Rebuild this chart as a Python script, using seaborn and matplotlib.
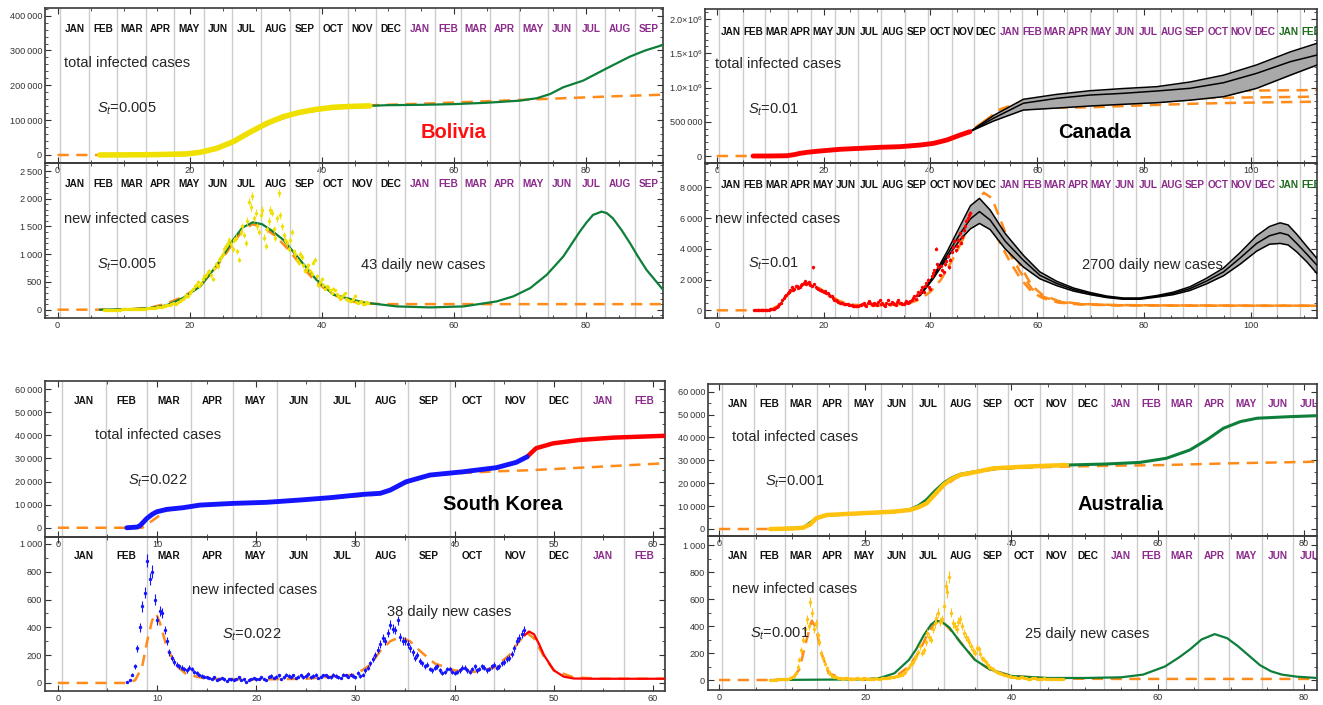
import numpy as np
import matplotlib
matplotlib.use("Agg")
import matplotlib.pyplot as plt
from matplotlib.ticker import MultipleLocator, FuncFormatter
import seaborn as sns

sns.set_style("ticks")
plt.rcParams["font.family"] = ["Liberation Sans", "DejaVu Sans"]
plt.rcParams["mathtext.fontset"] = "custom"
plt.rcParams["mathtext.rm"] = "Liberation Sans"
plt.rcParams["mathtext.it"] = "Liberation Sans:italic"

# --- calendar (weeks from start of 2020) ---
MONTH_NAMES = ["JAN", "FEB", "MAR", "APR", "MAY", "JUN",
               "JUL", "AUG", "SEP", "OCT", "NOV", "DEC"]
MONTH_START_DAYS = [0, 31, 60, 91, 121, 152, 182, 213, 244, 274, 305, 335,
                    366, 397, 425, 456, 486, 517, 547, 578, 609, 639, 670, 700,
                    731, 762, 790]
YEAR_COLORS = ["#111111", "#8B2A8B", "#1E6B1E"]
WEEK_OFFSET = 0.4

ORANGE = "#FF8C1A"
GREEN = "#0E7F3A"

# daily data are sampled every quarter week
DAILY_STEP = 0.25

# --- Bolivia ---
bol_tot_x = [6.4, 10, 14.5, 17, 19.5, 21.6, 24.1, 26.6, 29.1, 31.7, 34.2, 36.7, 39.2, 41.8, 44.5, 47.3]
bol_tot_y = [0, 300, 1000, 2000, 3000, 7700, 19000, 38000, 65000, 91000, 110000, 122600, 131000, 137000, 139500, 141000]
bol_fit_tot_x = [6.4, 15, 20, 24, 27, 30, 33, 36, 40, 44, 47, 50, 55, 60, 65, 70, 72.6, 74.6, 76.6, 79.6, 83.2, 86.7, 89, 91.7]
bol_fit_tot_y = [0, 1000, 4000, 16000, 42000, 72000, 98000, 118000, 131000, 138000, 141000, 143000, 144000, 146000,
                 150000, 156000, 163000, 175000, 194500, 213500, 249000, 282500, 300000, 316000]
bol_old_tot_x = [0, 6.4, 15, 20, 24, 27, 30, 33, 36, 40, 44, 48, 55, 62, 70, 78, 85, 91.7]
bol_old_tot_y = [0, 0, 1200, 4500, 17000, 42000, 72000, 98000, 117000, 130000, 138000, 143000, 147000, 152000,
                 158000, 164000, 169000, 173000]
bol_new_y = [0, 0, 0, 1, 0, 0, 0, 1, 2, 2, 3, 4, 5, 6, 5, 7,
             8, 9, 10, 11, 12, 14, 15, 16, 18, 20, 22, 26,
             30, 32, 35, 38, 45, 50, 40, 55, 60, 70, 80, 85,
             90, 110, 120, 95, 100, 130, 150, 180, 200, 230, 260, 240,
             300, 340, 380, 420, 450, 500, 420, 480, 550, 600, 620, 680,
             700, 620, 550, 750, 820, 780, 900, 950, 1000, 1100, 1150, 1200,
             1250, 1180, 1100, 1250, 1300, 1050, 900, 1400, 1500, 1350, 1200, 1600,
             1950, 1850, 2050, 1650, 1750, 1500, 1400, 1700, 1800, 1300, 1150, 1450,
             1600, 1800, 1750, 1450, 1300, 1650, 2100, 1700, 1500, 1350, 1250, 1200,
             1100, 1250, 1400, 1050, 1000, 900, 850, 1000, 950, 800, 700, 750,
             800, 700, 650, 850, 900, 600, 450, 500, 550, 450, 380, 420,
             400, 350, 300, 380, 350, 280, 250, 200, 220, 260, 300, 200,
             180, 160, 150, 200, 250, 140, 120, 130, 150, 110, 100, 130,
             120]
bol_fit_new_x = [6.4, 11.4, 14, 16.5, 19, 21.6, 24, 26.6, 28, 29.6, 31, 32.5, 34.2, 36.7, 39.2, 41.8, 46.3, 51.4,
                 56.4, 61.5, 66.5, 69, 71.6, 74.1, 76.6, 79.1, 80.1, 81.1, 82.4, 83.2, 84.1, 85.4, 86.7, 87.9,
                 89.2, 91.7]
bol_fit_new_y = [0, 10, 30, 78, 210, 419, 779, 1259, 1480, 1577, 1540, 1420, 1259, 900, 540, 270, 131, 59,
                 41, 59, 149, 239, 390, 630, 959, 1408, 1570, 1709, 1768, 1740, 1649, 1440, 1200, 960, 719, 360]
bol_old_new_x = [0, 6.4, 11, 14, 16.5, 19, 21.6, 24, 26.6, 28, 29.5, 31, 33, 35, 37, 39, 41, 43, 45, 47, 50, 60, 70, 80, 91.7]
bol_old_new_y = [0, 0, 10, 35, 110, 230, 430, 760, 1200, 1430, 1540, 1500, 1330, 1080, 780, 520, 330, 200, 140,
                 110, 100, 100, 100, 100, 100]

# --- Canada ---
can_tot_x = [6.8, 10, 13.1, 14.5, 15.6, 17, 19.3, 23.1, 26.8, 30.6, 34.3, 38.1, 40.6, 43.1, 45.6, 47.4]
can_tot_y = [0, 500, 4000, 20000, 39000, 55000, 73000, 98000, 112000, 127000, 136000, 160000, 185000, 234000,
             307000, 355000]
can_band_tot_x = [47.5, 51.8, 57.4, 63.7, 69.9, 76.1, 82.4, 88.6, 94.9, 101.1, 107.4, 112.4]
can_band_tot_mid = [360000, 550000, 770000, 842000, 890000, 915000, 949000, 988000, 1070000, 1207000, 1377000, 1474000]
can_band_tot_hi = [360000, 590000, 828000, 900000, 953000, 985000, 1012000, 1080000, 1180000, 1330000, 1520000, 1645000]
can_band_tot_lo = [360000, 510000, 671000, 700000, 730000, 755000, 778000, 815000, 866000, 988000, 1180000, 1328000]
can_old_tot_x = [0, 6.8, 13, 16, 20, 25, 30, 35, 40, 44, 47.5, 50]
can_old_tot_y = [0, 0, 3000, 40000, 75000, 105000, 125000, 140000, 175000, 250000, 370000, 500000]
can_old_branch_x = [50, 53, 57.4, 63.7, 69.9, 80, 90, 100, 112.4]
can_old_branch_hi = [500000, 680000, 800000, 860000, 890000, 920000, 940000, 955000, 963000]
can_old_branch_mid = [500000, 660000, 770000, 810000, 818000, 835000, 845000, 855000, 866000]
can_old_branch_lo = [500000, 620000, 700000, 705000, 711000, 740000, 765000, 780000, 793000]
can_new_y = [0, 5, 10, 12, 15, 18, 20, 25, 30, 35, 40, 50, 60, 70, 80, 110, 150, 220, 300, 400,
             500, 650, 800, 900, 1000, 1100, 1200, 1350, 1500, 1300, 1400, 1550,
             1600, 1450, 1500, 1650, 1700, 1800, 1900, 1700, 1750, 1850, 1650, 1600,
             2800, 1700, 1500, 1450, 1400, 1350, 1300, 1250, 1200, 1250, 1150, 1100,
             1000, 950, 900, 800, 700, 650, 600, 550, 500, 480, 450, 420,
             400, 420, 380, 350, 350, 320, 300, 280, 250, 280, 300, 330,
             350, 400, 450, 320, 300, 500, 600, 450, 400, 350, 500, 400,
             350, 550, 700, 400, 450, 350, 300, 500, 650, 380, 400, 550,
             500, 400, 350, 550, 700, 500, 450, 380, 400, 500, 600, 450,
             550, 600, 700, 800, 900, 750, 1000, 1200, 1100, 1300, 1500, 1200,
             1600, 1800, 2000, 1500, 1400, 2200, 2400, 2600, 4000, 3000, 2800, 2300,
             2900, 2600, 2500, 3000, 3200, 3500, 2800, 3300, 3800, 4100, 4500, 3900,
             4200, 4600, 5000, 4400, 4800, 5200, 5500, 5800, 6000, 6200, 6300]
can_band_new_x = [37.5, 38.1, 40.6, 43.1, 45.6, 47.5, 49.2, 51.2, 54, 57.4, 60.5, 63.7, 66.8, 69.9, 73, 76.1,
                  79.2, 82.4, 85.5, 88.6, 91.7, 94.9, 98, 101.1, 103.5, 105.5, 107, 108.6, 110.5, 112.4]
can_band_new_mid = [900, 978, 2170, 3585, 5000, 5950, 6420, 5870, 4500, 3260, 2280, 1740, 1350, 1090, 880, 760,
                    760, 910, 1100, 1410, 1900, 2500, 3400, 4350, 4850, 5040, 4900, 4350, 3650, 2930]
can_band_new_hi = [900, 990, 2250, 3800, 5500, 6800, 7280, 6520, 5000, 3585, 2500, 1880, 1450, 1160, 930, 800,
                   800, 960, 1180, 1530, 2080, 2750, 3750, 4850, 5450, 5690, 5550, 4950, 4150, 3370]
can_band_new_lo = [900, 965, 2090, 3400, 4600, 5300, 5650, 5250, 4000, 2820, 2050, 1600, 1250, 1020, 830, 720,
                   720, 860, 1020, 1290, 1720, 2250, 3000, 3850, 4300, 4350, 4250, 3800, 3150, 2390]
can_old_new_x = [0, 7, 10, 12, 13.5, 15, 17, 19, 21, 23, 25, 28, 32, 36, 38, 40, 42, 44, 45.5]
can_old_new_y = [0, 0, 30, 400, 1100, 1500, 1750, 1500, 1000, 600, 380, 300, 320, 450, 700, 1200, 2000, 3200, 4200]
can_old_new_branch_x = [45.5, 47, 48.5, 50, 51.5, 53, 55, 57, 59, 61, 64, 68, 75, 85, 100, 112.4]
can_old_new_hi = [4200, 5800, 7000, 7650, 7300, 6000, 4200, 2800, 1600, 1000, 600, 420, 340, 320, 310, 300]
can_old_new_mid = [4200, 5600, 6400, 6600, 6100, 5000, 3600, 2400, 1400, 900, 550, 400, 330, 310, 300, 300]
can_old_new_lo = [4200, 5300, 5800, 5900, 5400, 4400, 3100, 2000, 1200, 800, 500, 380, 320, 300, 290, 290]

# --- South Korea ---
kor_tot_x = [6.95, 8.0, 8.3, 8.96, 9.5, 9.96, 10.97, 12.6, 14.3, 17.7, 21, 24.4, 27.4, 30.8, 32.5, 33.5, 35.1,
             37.5, 40.8, 44.2, 46.2, 47.3]
kor_tot_y = [0, 300, 1000, 4000, 5800, 6900, 7950, 8660, 9800, 10550, 11000, 12000, 13000, 14450, 14900, 16300,
             19900, 22800, 24200, 26000, 28300, 30700]
kor_fit_tot_x = [47.3, 48.2, 49.9, 52.6, 56, 61.2]
kor_fit_tot_y = [30700, 34400, 36500, 38000, 39000, 39800]
kor_old_tot_x = [0, 7, 8.5, 9.5, 10.3, 11, 13, 17, 21, 25, 29, 32, 34, 36, 38, 40, 44, 47, 50, 55, 61.2]
kor_old_tot_y = [0, 0, 0, 3000, 5500, 7500, 9000, 10300, 11000, 12000, 13200, 14300, 17000, 21000, 22800, 23500,
                 24400, 24800, 25400, 26500, 27900]
kor_new_y = [5, 20, 60, 120, 250, 400, 550, 650, 880, 750, 800, 600,
             450, 520, 500, 380, 300, 220, 180, 150, 130, 120, 110, 100,
             90, 110, 100, 80, 70, 60, 50, 45, 40, 35, 30, 40,
             20, 30, 35, 25, 15, 30, 25, 20, 30, 40, 20, 25,
             10, 20, 30, 35, 25, 30, 40, 30, 20, 45, 50, 35,
             45, 55, 30, 40, 60, 50, 40, 55, 35, 45, 55, 40,
             50, 65, 40, 50, 60, 35, 45, 55, 55, 45, 40, 60,
             50, 40, 35, 60, 55, 45, 60, 50, 40, 70, 50, 60,
             90, 110, 140, 170, 200, 240, 280, 320, 300, 360, 420, 390,
             380, 450, 330, 300, 300, 280, 250, 220, 180, 200, 160, 140,
             120, 130, 100, 90, 110, 120, 90, 70, 80, 100, 100, 80,
             70, 80, 90, 110, 110, 90, 80, 100, 120, 90, 100, 120,
             110, 90, 100, 120, 130, 110, 120, 140, 150, 170, 180, 210,
             250, 300, 320, 350, 380]
kor_fit_new_x = [47, 47.5, 48, 48.5, 49, 50, 51, 52, 54, 57, 61.2]
kor_fit_new_y = [340, 370, 350, 280, 200, 90, 45, 32, 30, 30, 30]
kor_old_new_x = [0, 7, 7.8, 8.5, 9, 9.5, 9.9, 10.3, 11, 12, 13, 15, 20, 25, 30, 31.5, 32.5, 33.5, 34.5, 35.5,
                 36.5, 38, 40, 42, 44, 45.5, 46.5, 47.3, 48, 49, 50, 52, 55, 61.2]
kor_old_new_y = [0, 0, 20, 120, 300, 450, 500, 430, 250, 120, 60, 30, 25, 30, 60, 130, 230, 300, 330, 300,
                 230, 140, 90, 80, 110, 200, 300, 360, 320, 190, 90, 40, 30, 30]

# --- Australia ---
aus_tot_x = [7, 10, 11.5, 12.5, 13.3, 14.7, 17, 19.3, 21.5, 23.8, 26.1, 27.3, 28.4, 29.5, 30.7, 31.8, 33, 35.3,
             37.5, 41.6, 44.5, 47.6]
aus_tot_y = [0, 200, 570, 2000, 4700, 6100, 6500, 6850, 7200, 7560, 8300, 9500, 11200, 15000, 19200, 21800, 23600,
             25000, 26500, 27200, 27600, 27950]
aus_fit_tot_x = [7, 11.5, 13.3, 14.7, 19.3, 23.8, 26.1, 27.3, 28.4, 29.5, 30.7, 31.8, 33, 35.3, 37.5, 41.6, 47.6,
                 53, 57.6, 61.2, 64.4, 66.7, 69, 71.3, 73.6, 78.2, 81.8]
aus_fit_tot_y = [0, 500, 4600, 6000, 6800, 7500, 8500, 10200, 12800, 16500, 20000, 22300, 23900, 25200, 26300,
                 27100, 27950, 28400, 29100, 30900, 34500, 38900, 44000, 46900, 48400, 49100, 49500]
aus_old_tot_x = [0, 7, 11, 12.5, 13.5, 14.7, 19, 24, 26.5, 28.5, 30.5, 32.5, 35, 38, 42, 47.6, 53, 61, 70, 81.8]
aus_old_tot_y = [0, 0, 200, 2200, 5000, 6000, 6800, 7400, 8500, 11500, 18000, 22500, 24800, 26200, 26800, 27300,
                 27600, 27950, 28700, 29400]
aus_new_y = [0, 1, 2, 3, 5, 4, 5, 6, 8, 9, 10, 15,
             20, 30, 50, 100, 150, 220, 300, 380, 450, 400, 580, 500,
             380, 420, 330, 280, 200, 160, 120, 90, 60, 45, 30, 25,
             20, 18, 15, 12, 10, 14, 12, 10, 8, 9, 10, 12,
             12, 9, 10, 13, 15, 11, 10, 9, 8, 10, 12, 11,
             10, 12, 15, 13, 12, 16, 20, 22, 25, 28, 30, 35,
             40, 50, 60, 80, 100, 120, 130, 160, 180, 210, 250, 200,
             220, 280, 350, 320, 300, 380, 420, 460, 500, 430, 450, 550,
             700, 650, 760, 500, 420, 400, 380, 430, 450, 400, 350, 320,
             300, 280, 250, 220, 200, 240, 230, 190, 160, 150, 130, 110,
             100, 90, 80, 70, 60, 55, 50, 45, 40, 35, 30, 28,
             25, 22, 20, 18, 15, 20, 20, 15, 12, 11, 10, 12,
             15, 12, 10, 9, 8, 10, 12, 11, 10, 9, 8, 9,
             10, 9, 8, 9, 10]
aus_fit_new_x = [7, 20, 22, 24, 26, 27, 28, 29, 29.7, 30.5, 31.5, 33, 35, 37, 40, 45, 50, 55, 58, 61, 63, 64.5,
                 66, 67.8, 69.5, 71, 72.5, 74, 75.5, 77, 79, 81.8]
aus_fit_new_y = [0, 5, 15, 50, 150, 230, 330, 410, 440, 430, 390, 280, 150, 80, 30, 15, 15, 20, 40, 100, 170, 230,
                 300, 340, 310, 250, 180, 110, 65, 40, 25, 15]
aus_old_new_x = [0, 7, 10, 11, 12, 12.7, 13.3, 14, 15, 17, 20, 24, 26, 27.5, 28.5, 29.5, 30.3, 31, 32, 33.5, 35,
                 37, 40, 44, 47, 55, 65, 81.8]
aus_old_new_y = [0, 0, 5, 80, 300, 440, 380, 200, 50, 10, 5, 20, 100, 220, 340, 420, 440, 410, 350, 250, 150,
                 80, 30, 15, 10, 8, 8, 8]

W, H = 1323, 705
fig = plt.figure(figsize=(W / 100, H / 100), dpi=100)
fig.patch.set_facecolor("white")


def add_ax(l, t, r, b):
    ax = fig.add_axes([l / W, 1 - b / H, (r - l) / W, (b - t) / H])
    ax.set_facecolor("none")
    return ax


def thin(v):
    s = f"{int(round(v)):,}"
    return s.replace(",", "\u2009")


def canada_fmt(v, pos):
    if abs(v) < 1:
        return "0"
    if v < 1e6:
        return thin(v)
    return f"{v / 1e6:.1f}×10$^{{6}}$"


def style(ax, xlim, ylim, xmaj, ymaj, ymin, fmt=None):
    ax.set_xlim(*xlim)
    ax.set_ylim(*ylim)
    ax.xaxis.set_major_locator(MultipleLocator(xmaj))
    ax.xaxis.set_minor_locator(MultipleLocator(5))
    ax.yaxis.set_major_locator(MultipleLocator(ymaj))
    ax.yaxis.set_minor_locator(MultipleLocator(ymin))
    ax.yaxis.set_major_formatter(FuncFormatter(fmt or (lambda v, p: thin(v))))
    ax.xaxis.set_major_formatter(FuncFormatter(lambda v, p: f"{int(round(v))}"))
    ax.tick_params(which="both", direction="in", top=True, right=True,
                   labelsize=6.6, colors="#333333", pad=2)
    ax.tick_params(which="major", length=4, width=0.8)
    ax.tick_params(which="minor", length=2, width=0.6)
    for s in ax.spines.values():
        s.set_linewidth(1.2)
        s.set_color("#3a3a3a")
    ax.set_xlabel("")
    ax.set_ylabel("")


def months(ax, n_months, label_y):
    for i in range(min(n_months + 1, len(MONTH_START_DAYS))):
        ax.axvline(MONTH_START_DAYS[i] / 7 + WEEK_OFFSET, color="#cccccc", lw=1, zorder=0.5)
    for i in range(n_months):
        mid = (MONTH_START_DAYS[i] + MONTH_START_DAYS[i + 1]) / 14 + WEEK_OFFSET
        ax.text(mid, label_y, MONTH_NAMES[i % 12], transform=ax.get_xaxis_transform(),
                ha="center", va="center", fontsize=7.2, fontweight="bold",
                color=YEAR_COLORS[i // 12], clip_on=True)


def line(ax, x, y, **kw):
    sns.lineplot(x=x, y=y, ax=ax, estimator=None, sort=False, **kw)


def dashed(ax, x, y, lw=1.8):
    line(ax, x, y, color=ORANGE, lw=lw, linestyle=(0, (4.5, 3)), zorder=2)


def points(ax, y, color):
    y = np.asarray(y, dtype=float)
    x = 7 + DAILY_STEP * np.arange(len(y))
    ax.errorbar(x, y, yerr=1.6 * np.sqrt(y), fmt="none", ecolor=color, elinewidth=0.8, zorder=4)
    sns.scatterplot(x=x, y=y, ax=ax, color=color, s=6, linewidth=0, zorder=5)


def label(x, y, s, **kw):
    kw.setdefault("fontsize", 10.5)
    fig.text(x / W, 1 - y / H, s, ha="left", va="center", **kw)


# ======== Bolivia ========
YEL = "#F0E000"
ax1 = add_ax(45, 8, 663, 163)
ax2 = add_ax(45, 163, 663, 318)
style(ax1, (-1.9, 91.7), (-23000, 422000), 20, 100000, 20000)
style(ax2, (-1.9, 91.7), (-150, 2645), 20, 500, 100)
months(ax1, 21, 0.865)
months(ax2, 21, 0.865)
dashed(ax1, bol_old_tot_x, bol_old_tot_y)
line(ax1, bol_fit_tot_x, bol_fit_tot_y, color=GREEN, lw=1.6, zorder=3)
line(ax1, bol_tot_x, bol_tot_y, color=YEL, lw=4, zorder=4)
dashed(ax2, bol_old_new_x, bol_old_new_y)
line(ax2, bol_fit_new_x, bol_fit_new_y, color=GREEN, lw=1.6, zorder=3)
points(ax2, bol_new_y, YEL)
label(64, 63, "total infected cases")
label(97, 109, r"$S_t$=0.005")
label(421, 132, "Bolivia", fontsize=14.5, fontweight="bold", color="#FF1010")
label(64, 219, "new infected cases")
label(97, 265, r"$S_t$=0.005")
label(361, 265, "43 daily new cases")

# ======== Canada ========
ax3 = add_ax(705, 9, 1317, 163)
ax4 = add_ax(705, 163, 1317, 318)
style(ax3, (-2.2, 112.4), (-102000, 2146000), 20, 500000, 100000, canada_fmt)
style(ax4, (-2.2, 112.4), (-500, 9580), 20, 2000, 500)
months(ax3, 26, 0.85)
months(ax4, 26, 0.857)
dashed(ax3, can_old_tot_x, can_old_tot_y)
for yb in (can_old_branch_hi, can_old_branch_mid, can_old_branch_lo):
    dashed(ax3, can_old_branch_x, yb)
ax3.fill_between(can_band_tot_x, can_band_tot_lo, can_band_tot_hi, color="#a9a9a9", lw=0, zorder=2.5)
for yb in (can_band_tot_hi, can_band_tot_mid, can_band_tot_lo):
    line(ax3, can_band_tot_x, yb, color="black", lw=1.1, zorder=3)
line(ax3, can_tot_x, can_tot_y, color="#FF0000", lw=3.5, zorder=4)
dashed(ax4, can_old_new_x, can_old_new_y)
for yb in (can_old_new_hi, can_old_new_mid, can_old_new_lo):
    dashed(ax4, can_old_new_branch_x, yb)
ax4.fill_between(can_band_new_x, can_band_new_lo, can_band_new_hi, color="#a9a9a9", lw=0, zorder=2.5)
for yb in (can_band_new_hi, can_band_new_mid, can_band_new_lo):
    line(ax4, can_band_new_x, yb, color="black", lw=1.1, zorder=3)
points(ax4, can_new_y, "#FF0000")
label(715, 64, "total infected cases")
label(748, 110, r"$S_t$=0.01")
label(1058, 133, "Canada", fontsize=14.5, fontweight="bold", color="black")
label(715, 219, "new infected cases")
label(748, 264, r"$S_t$=0.01")
label(1082, 265, "2700 daily new cases")

# ======== South Korea ========
BLUE = "#1414FF"
ax5 = add_ax(45, 381, 665, 537)
ax6 = add_ax(45, 537, 665, 691)
style(ax5, (-1.3, 61.2), (-4000, 63500), 10, 10000, 5000)
style(ax6, (-1.3, 61.2), (-58, 1050), 10, 200, 100)
months(ax5, 14, 0.872)
months(ax6, 14, 0.877)
dashed(ax5, kor_old_tot_x, kor_old_tot_y)
line(ax5, kor_fit_tot_x, kor_fit_tot_y, color="#FF0000", lw=3.2, zorder=3)
line(ax5, kor_tot_x, kor_tot_y, color=BLUE, lw=3.5, zorder=4)
dashed(ax6, kor_old_new_x, kor_old_new_y)
line(ax6, kor_fit_new_x, kor_fit_new_y, color="#FF0000", lw=1.6, zorder=3)
points(ax6, kor_new_y, BLUE)
label(95, 435, "total infected cases")
label(128, 481, r"$S_t$=0.022")
label(443, 504, "South Korea", fontsize=14.5, fontweight="bold", color="black")
label(192, 590, "new infected cases")
label(222, 635, r"$S_t$=0.022")
label(387, 612, "38 daily new cases")

# ======== Australia ========
GOLD = "#FFC20E"
ax7 = add_ax(708, 384, 1317, 536)
ax8 = add_ax(708, 536, 1317, 690)
style(ax7, (-1.5, 81.8), (-3060, 63350), 20, 10000, 5000)
style(ax8, (-1.5, 81.8), (-74, 1067), 20, 200, 100)
months(ax7, 19, 0.866)
months(ax8, 19, 0.87)
dashed(ax7, aus_old_tot_x, aus_old_tot_y)
line(ax7, aus_fit_tot_x, aus_fit_tot_y, color=GREEN, lw=2.2, zorder=3)
line(ax7, aus_tot_x, aus_tot_y, color=GOLD, lw=3.2, zorder=4)
dashed(ax8, aus_old_new_x, aus_old_new_y)
line(ax8, aus_fit_new_x, aus_fit_new_y, color=GREEN, lw=1.6, zorder=3)
points(ax8, aus_new_y, GOLD)
label(732, 437, "total infected cases")
label(765, 482, r"$S_t$=0.001")
label(1078, 505, "Australia", fontsize=14.5, fontweight="bold", color="black")
label(732, 589, "new infected cases")
label(750, 634, r"$S_t$=0.001")
label(1025, 634, "25 daily new cases")

fig.savefig("out.png", dpi=100)
